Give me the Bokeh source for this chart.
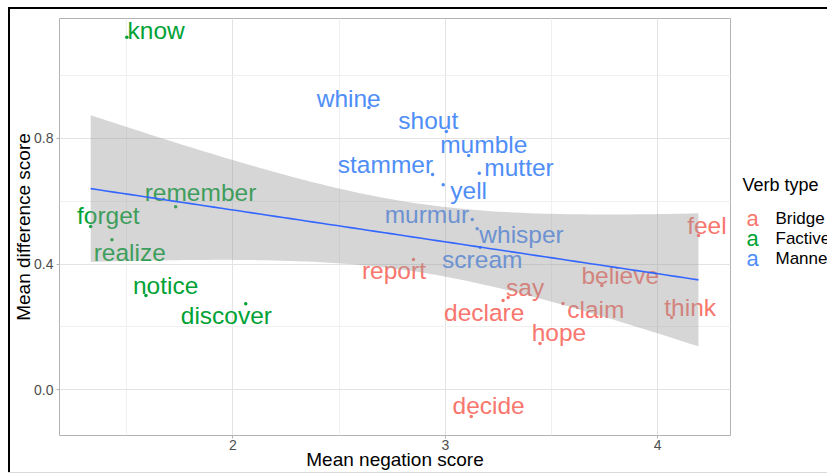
import numpy as np
from bokeh.plotting import figure
from bokeh.layouts import row, column
from bokeh.models import Range1d, FixedTicker, PrintfTickFormatter, ColumnDataSource, Div
from bokeh.core.properties import value
from bokeh.embed import file_html
from bokeh.resources import INLINE

# ---------------- data ----------------
verbs = ["know", "forget", "remember", "realize", "notice", "discover",
         "whine", "shout", "mumble", "mutter", "stammer", "yell", "murmur", "whisper", "scream",
         "report", "say", "declare", "claim", "hope", "believe", "think", "feel", "decide"]
verb_type = ["Factive"] * 6 + ["Manner"] * 9 + ["Bridge"] * 9
neg_score = [1.50, 1.33, 1.73, 1.43, 1.59, 2.06,
             2.64, 3.005, 3.11, 3.16, 2.94, 2.99, 3.127, 3.15, 3.164,
             2.85, 3.296, 3.272, 3.554, 3.446, 3.737, 4.066, 4.192, 3.122]
diff_score = [1.122, 0.52, 0.583, 0.478, 0.30, 0.274,
              0.899, 0.822, 0.746, 0.689, 0.685, 0.653, 0.542, 0.513, 0.453,
              0.415, 0.294, 0.284, 0.275, 0.147, 0.332, 0.230, 0.491, -0.085]
# repelled label anchor positions (text centre x, baseline y), in data units
label_x = [1.638, 1.413, 1.847, 1.514, 1.683, 1.969,
           2.545, 2.920, 3.181, 3.347, 2.718, 3.110, 2.913, 3.359, 3.174,
           2.758, 3.376, 3.183, 3.709, 3.535, 3.824, 4.153, 4.232, 3.204]
label_y = [1.118, 0.529, 0.603, 0.411, 0.306, 0.211,
           0.902, 0.832, 0.755, 0.682, 0.692, 0.609, 0.532, 0.469, 0.389,
           0.354, 0.300, 0.220, 0.230, 0.157, 0.338, 0.236, 0.497, -0.076]

type_names = ["Bridge", "Factive", "Manner"]
type_colors = ["#F8766D", "#00A235", "#4F8EF7"]
legend_title = "Verb type"
x_ticks = [2, 3, 4]
y_ticks = [0.0, 0.4, 0.8]
x_minor = [1.5, 2.5, 3.5]
y_minor = [0.2, 0.6, 1.0]

FONT = "Liberation Sans"
H = 463        # height of plot row
W_MAIN = 728   # main figure width
W_LEG = 89     # legend panel width

color_map = dict(zip(type_names, type_colors))
colors = [color_map[t] for t in verb_type]

src = ColumnDataSource(dict(x=neg_score, y=diff_score, lx=label_x, ly=label_y,
                            verb=verbs, color=colors))

# ---------------- linear fit with 95% confidence band ----------------
xa = np.array(neg_score)
ya = np.array(diff_score)
n = len(xa)
slope, intercept = np.polyfit(xa, ya, 1)
resid = ya - (intercept + slope * xa)
s = np.sqrt(np.sum(resid ** 2) / (n - 2))
sxx = np.sum((xa - xa.mean()) ** 2)
t_crit = 2.074  # t(0.975, df=22)
xg = np.linspace(xa.min(), xa.max(), 80)
fit = intercept + slope * xg
se = s * np.sqrt(1.0 / n + (xg - xa.mean()) ** 2 / sxx)
lower = fit - t_crit * se
upper = fit + t_crit * se

# ---------------- main figure ----------------
p = figure(width=W_MAIN, height=H, output_backend="svg", toolbar_location=None,
           x_range=Range1d(1.183, 4.343), y_range=Range1d(-0.1455, 1.182),
           min_border_left=48, min_border_right=8, min_border_top=9, min_border_bottom=37)

p.background_fill_color = "white"
p.border_fill_color = "white"
p.outline_line_color = "#B3B3B3"
p.outline_line_width = 1

p.xaxis.ticker = FixedTicker(ticks=x_ticks, minor_ticks=x_minor)
p.yaxis.ticker = FixedTicker(ticks=y_ticks, minor_ticks=y_minor)
p.yaxis.formatter = PrintfTickFormatter(format="%.1f")
p.xgrid.ticker = FixedTicker(ticks=x_ticks, minor_ticks=x_minor)
p.ygrid.ticker = FixedTicker(ticks=y_ticks, minor_ticks=y_minor)

for g in (p.xgrid, p.ygrid):
    g.grid_line_color = "#E3E3E3"
    g.grid_line_width = 1
    g.minor_grid_line_color = "#F0F0F0"
    g.minor_grid_line_width = 1

for ax in (p.xaxis, p.yaxis):
    ax.axis_line_color = None
    ax.major_tick_line_color = "#B3B3B3"
    ax.major_tick_out = 3
    ax.major_tick_in = 0
    ax.minor_tick_line_color = None
    ax.major_label_text_font = FONT
    ax.major_label_text_font_size = "14px"
    ax.major_label_text_color = "#4D4D4D"
    ax.axis_label_text_font = FONT
    ax.axis_label_text_font_size = "19px"
    ax.axis_label_text_font_style = "normal"
    ax.axis_label_text_color = "black"

p.xaxis.axis_label = "Mean negation score"
p.yaxis.axis_label = "Mean difference score"
p.xaxis.major_label_standoff = 0
p.xaxis.axis_label_standoff = -4
p.yaxis.major_label_standoff = 2
p.yaxis.axis_label_standoff = -3

# points and repelled labels
p.scatter("x", "y", source=src, size=3.5, color="color", line_color=None)
p.text("lx", "ly", text="verb", source=src, text_color="color",
       text_font=value(FONT), text_font_size="24.5px",
       text_align="center", text_baseline="alphabetic", y_offset=-8)

# smoother band and fitted line drawn on top
p.varea(x=xg, y1=lower, y2=upper, fill_color="#999999", fill_alpha=0.4)
p.line(xg, fit, line_color="#3366FF", line_width=1.6)

# ---------------- legend panel (its own pixel-space figure) ----------------
lg = figure(width=W_LEG, height=H, output_backend="svg", toolbar_location=None,
            x_range=Range1d(0, W_LEG), y_range=Range1d(H, 0),
            min_border=0, x_axis_type=None, y_axis_type=None)
lg.outline_line_color = None
lg.grid.visible = False
lg.background_fill_color = "white"
lg.border_fill_color = "white"

key_src = ColumnDataSource(dict(
    kx=[14] * 3, tx=[37] * 3, ky=[222, 244, 266],
    name=type_names, color=type_colors, key=["a"] * 3))
lg.text(x=[4], y=[185], text=[legend_title], text_font=value(FONT), text_font_size="18px",
        text_color="black", text_align="left", text_baseline="middle")
lg.text("kx", "ky", text="key", source=key_src, text_color="color", text_font=value(FONT),
        text_font_size="22px", text_align="center", text_baseline="middle")
lg.text("tx", "ky", text="name", source=key_src, text_color="black", text_font=value(FONT),
        text_font_size="17px", text_align="left", text_baseline="middle")

# ---------------- outer frame lines and white offsets ----------------
def block(w, h, color):
    return Div(width=w, height=h, margin=0, styles={"background-color": color})

inner_w = 2 + W_MAIN + W_LEG
framed = column(
    block(inner_w, 2, "black"),
    row(block(2, H, "black"), p, lg, spacing=0),
    block(inner_w, 1, "#D9D9D9"),
    spacing=0)
layout = column(block(8 + inner_w, 7, "white"),
                row(block(8, H + 3, "white"), framed, spacing=0),
                spacing=0)

open("out.html", "w").write(file_html(layout, INLINE))
